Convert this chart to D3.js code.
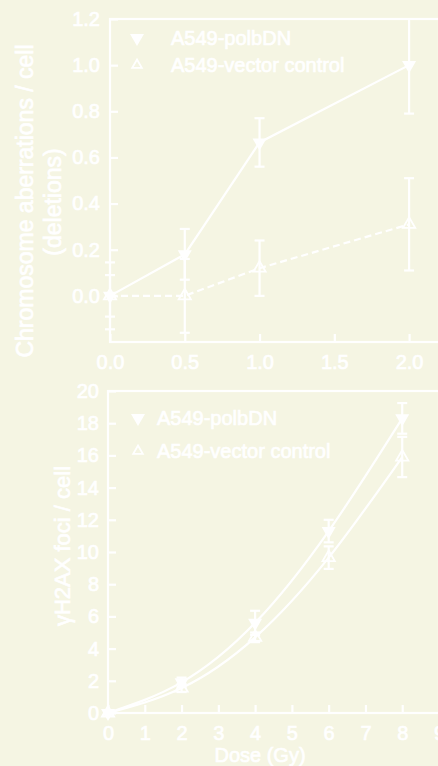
<!DOCTYPE html>
<html>
<head>
<meta charset="utf-8">
<script src="https://cdn.jsdelivr.net/npm/d3@7"></script>
<style>
  html, body { margin: 0; padding: 0; background: #f5f5e3; }
  svg { display: block; }
  text { font-family: "Liberation Sans", Arial, sans-serif; fill: #ffffff; stroke: #ffffff; stroke-width: 0.7px; }
</style>
</head>
<body>
<svg id="chart" width="438" height="766"></svg>
<script>
// ---------- data ----------
const seriesNames = ["A549-polbDN", "A549-vector control"];

// Top panel: chromosome aberrations (deletions)
const doseTop = [0, 0.5, 1.0, 2.0];
const polbTop = [0, 0.18, 0.665, 1.0];
const polbTopErr = [0.09, 0.11, 0.105, 0.21];
const vecTop = [0, 0, 0.12, 0.31];
const vecTopErr = [0.145, 0.16, 0.12, 0.2];
const xTicksTop = [0, 0.5, 1.0, 1.5, 2.0];
const yTicksTop = [0, 0.2, 0.4, 0.6, 0.8, 1.0, 1.2];

// Bottom panel: gammaH2AX foci
const doseBot = [0, 2, 4, 6, 8];
const polbBot = [0, 1.9, 5.6, 11.3, 18.3];
const polbBotErr = [0.1, 0.3, 0.75, 0.7, 0.95];
const vecBot = [0, 1.55, 4.7, 9.65, 15.9];
const vecBotErr = [0.1, 0.25, 0.3, 0.7, 1.25];
const xTicksBot = [0, 1, 2, 3, 4, 5, 6, 7, 8, 9];
const yTicksBot = [0, 2, 4, 6, 8, 10, 12, 14, 16, 18, 20];

// ---------- drawing ----------
const svg = d3.select("#chart");
const W = "#ffffff";
const downTri = d3.symbol().type(d3.symbolTriangle).size(85);
const upTri = d3.symbol().type(d3.symbolTriangle).size(65);

function panel(cfg) {
  const x = d3.scaleLinear().domain(cfg.xDomain).range([cfg.left, cfg.right]);
  const y = d3.scaleLinear().domain(cfg.yDomain).range([cfg.bottom, cfg.top]);
  const g = svg.append("g");

  const clipId = "clip" + cfg.id;
  svg.append("clipPath").attr("id", clipId).append("rect")
    .attr("x", cfg.left - 12).attr("y", cfg.top - 1).attr("width", cfg.right - cfg.left + 24)
    .attr("height", cfg.bottom - cfg.top + 12);

  // axes
  const ya = g.append("g").attr("transform", `translate(${cfg.left},0)`)
    .call(d3.axisLeft(y).tickValues(cfg.yTicks).tickSize(-8).tickPadding(cfg.yPad).tickFormat(cfg.yFmt));
  const xa = g.append("g").attr("transform", `translate(0,${cfg.bottom})`)
    .call(d3.axisBottom(x).tickValues(cfg.xTicks).tickSize(-8).tickPadding(13).tickFormat(cfg.xFmt));
  [ya, xa].forEach(a => {
    a.select(".domain").remove();
    a.selectAll("line").attr("stroke", W).attr("stroke-width", 2.2);
    a.selectAll("text").attr("fill", W).style("font-size", "20px")
      .style("font-family", '"Liberation Sans", Arial, sans-serif');
  });

  // frame
  g.append("rect").attr("x", cfg.left).attr("y", cfg.top)
    .attr("width", cfg.right - cfg.left).attr("height", cfg.bottom - cfg.top)
    .attr("fill", "none").attr("stroke", W).attr("stroke-width", 2.2);

  const plot = g.append("g").attr("clip-path", `url(#${clipId})`);

  cfg.series.forEach(s => {
    const pts = cfg.dose.map((d, i) => ({ x: d, y: s.vals[i], e: s.err[i] }));
    // line
    plot.append("path").datum(pts)
      .attr("fill", "none").attr("stroke", W).attr("stroke-width", 2.2)
      .attr("stroke-dasharray", s.dash || null)
      .attr("d", d3.line().x(d => x(d.x)).y(d => y(d.y)).curve(cfg.curve));
    // error bars
    const eb = plot.append("g").selectAll("g").data(pts).join("g");
    eb.append("line").attr("x1", d => x(d.x)).attr("x2", d => x(d.x))
      .attr("y1", d => y(d.y - d.e)).attr("y2", d => y(d.y + d.e))
      .attr("stroke", W).attr("stroke-width", 2.2);
    eb.append("line").attr("x1", d => x(d.x) - 5).attr("x2", d => x(d.x) + 5)
      .attr("y1", d => y(d.y + d.e)).attr("y2", d => y(d.y + d.e))
      .attr("stroke", W).attr("stroke-width", 2.2);
    eb.append("line").attr("x1", d => x(d.x) - 5).attr("x2", d => x(d.x) + 5)
      .attr("y1", d => y(d.y - d.e)).attr("y2", d => y(d.y - d.e))
      .attr("stroke", W).attr("stroke-width", 2.2);
    // markers
    const m = plot.append("g").selectAll("path").data(pts).join("path")
      .attr("transform", d => `translate(${x(d.x)},${y(d.y)})` + (s.filled ? " rotate(180)" : ""));
    if (s.filled) m.attr("d", downTri).attr("fill", W);
    else m.attr("d", upTri).attr("fill", "none").attr("stroke", W).attr("stroke-width", 1.8);
  });

  // legend
  cfg.series.forEach((s, i) => {
    const ly = cfg.legY[i];
    const mk = g.append("path").attr("transform", `translate(${cfg.legMX},${ly})` + (s.filled ? " rotate(180)" : ""));
    if (s.filled) mk.attr("d", downTri).attr("fill", W);
    else mk.attr("d", d3.symbol().type(d3.symbolTriangle).size(40)).attr("fill", "none").attr("stroke", W).attr("stroke-width", 1.8);
    g.append("text").attr("x", cfg.legTX).attr("y", ly + 7).style("font-size", "20px").text(s.name);
  });
  return { x, y };
}

const bg = "#f5f5e3";

panel({
  id: "top", bg,
  xDomain: [0, 2.2], yDomain: [-0.2, 1.2],
  left: 110, right: 439, top: 19, bottom: 342,
  xTicks: xTicksTop, yTicks: yTicksTop, yPad: 10,
  xFmt: d3.format(".1f"), yFmt: d3.format(".1f"),
  dose: doseTop, curve: d3.curveLinear,
  series: [
    { name: seriesNames[0], vals: polbTop, err: polbTopErr, filled: true },
    { name: seriesNames[1], vals: vecTop, err: vecTopErr, filled: false, dash: "7,4" }
  ],
  legMX: 137, legTX: 171, legY: [38, 65]
});

panel({
  id: "bot", bg,
  xDomain: [0, 9], yDomain: [0, 20],
  left: 108, right: 439, top: 391, bottom: 713,
  xTicks: xTicksBot, yTicks: yTicksBot, yPad: 9,
  xFmt: d3.format("d"), yFmt: d3.format("d"),
  dose: doseBot, curve: d3.curveNatural,
  series: [
    { name: seriesNames[0], vals: polbBot, err: polbBotErr, filled: true },
    { name: seriesNames[1], vals: vecBot, err: vecBotErr, filled: false }
  ],
  legMX: 138, legTX: 157, legY: [418, 451]
});

// axis titles
const t1 = svg.append("g").attr("transform", "translate(25,201) rotate(-90)");
t1.append("text").attr("text-anchor", "middle").attr("dy", "0.35em").style("font-size", "23px").text("Chromosome aberrations / cell");
const t2 = svg.append("g").attr("transform", "translate(53,202) rotate(-90)");
t2.append("text").attr("text-anchor", "middle").attr("dy", "0.35em").style("font-size", "23px").text("(deletions)");
const t3 = svg.append("g").attr("transform", "translate(62,546) rotate(-90)");
t3.append("text").attr("text-anchor", "middle").attr("dy", "0.35em").style("font-size", "22px").text("γH2AX foci / cell");
svg.append("text").attr("x", 260).attr("y", 762).attr("text-anchor", "middle").style("font-size", "20px").text("Dose (Gy)");
</script>
</body>
</html>
